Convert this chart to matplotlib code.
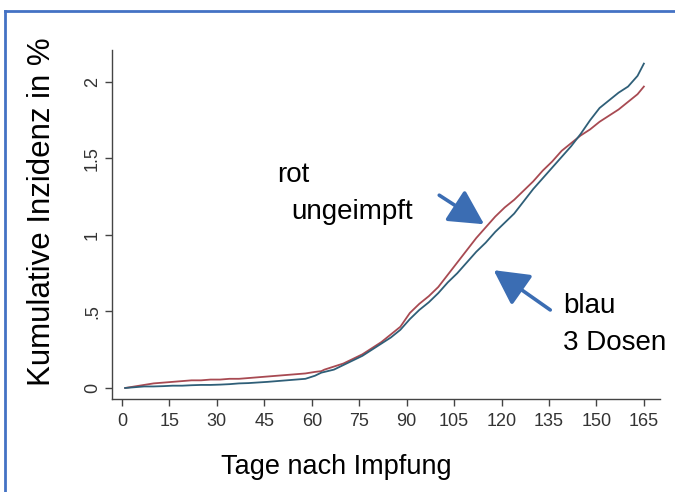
import matplotlib
matplotlib.use("Agg")
import matplotlib.pyplot as plt
from matplotlib.lines import Line2D

# Kumulative Inzidenz (%) nach Tagen seit Impfung
days = [1, 4, 7, 10, 13, 16, 19, 22, 25, 28, 31, 34, 37, 40, 43, 46, 49, 52,
        55, 58, 61, 63, 64, 67, 70, 73, 76, 79, 82, 85, 88, 91, 94, 97, 100,
        103, 106, 109, 112, 115, 118, 121, 124, 127, 130, 133, 136, 139, 142,
        145, 148, 151, 154, 157, 160, 163, 165]

rot_ungeimpft = [0.00, 0.01, 0.02, 0.03, 0.035, 0.04, 0.045, 0.05, 0.05,
                 0.055, 0.055, 0.06, 0.06, 0.065, 0.07, 0.075, 0.08, 0.085,
                 0.09, 0.095, 0.105, 0.11, 0.12, 0.14, 0.16, 0.19, 0.22, 0.26,
                 0.30, 0.35, 0.40, 0.49, 0.55, 0.60, 0.66, 0.74, 0.82, 0.90,
                 0.98, 1.05, 1.12, 1.18, 1.23, 1.29, 1.35, 1.42, 1.48, 1.55,
                 1.60, 1.65, 1.69, 1.74, 1.78, 1.82, 1.87, 1.92, 1.97]

blau_3dosen = [0.00, 0.005, 0.01, 0.01, 0.012, 0.015, 0.015, 0.018, 0.02,
               0.02, 0.022, 0.025, 0.03, 0.032, 0.036, 0.04, 0.045, 0.05,
               0.055, 0.06, 0.08, 0.10, 0.105, 0.12, 0.15, 0.18, 0.21, 0.25,
               0.29, 0.33, 0.38, 0.45, 0.51, 0.56, 0.62, 0.69, 0.75, 0.82,
               0.89, 0.95, 1.02, 1.08, 1.14, 1.22, 1.30, 1.37, 1.44, 1.51,
               1.58, 1.66, 1.75, 1.83, 1.88, 1.93, 1.97, 2.04, 2.12]

xticks = [0, 15, 30, 45, 60, 75, 90, 105, 120, 135, 150, 165]
yticks = [0, 0.5, 1, 1.5, 2]
ytick_labels = ['0', '.5', '1', '1.5', '2']

W, H = 675, 492
RED = '#a84a52'
BLUE = '#2f5f78'
ARROW = '#3b6db3'
TICKFONT = ['Liberation Sans Narrow', 'Liberation Sans']
FONT = ['Liberation Sans', 'DejaVu Sans']


def px(x, y):
    """Pixel (from top-left) -> figure fraction."""
    return x / W, 1 - y / H


fig = plt.figure(figsize=(W / 100, H / 100), dpi=100)
fig.patch.set_facecolor('white')

ax = fig.add_axes([112 / W, 1 - 399 / H, (660 - 112) / W, (399 - 50) / H])
ax.plot(days, rot_ungeimpft, color=RED, lw=1.3)
ax.plot(days, blau_3dosen, color=BLUE, lw=1.3)

ax.set_xlim(-3.16, 170.1)
ax.set_ylim(-0.072, 2.209)
ax.spines['top'].set_visible(False)
ax.spines['right'].set_visible(False)
for s in ['left', 'bottom']:
    ax.spines[s].set_color('#444444')
    ax.spines[s].set_linewidth(1.0)

ax.set_xticks(xticks)
ax.set_xticklabels([str(t) for t in xticks], family=TICKFONT, fontsize=13)
ax.set_yticks(yticks)
ax.set_yticklabels(ytick_labels, family=TICKFONT, fontsize=13, rotation=90,
                   va='center')
ax.tick_params(axis='x', length=5, width=1, color='#444444', pad=5,
               labelcolor='#333333')
ax.tick_params(axis='y', length=5, width=1, color='#444444', pad=3,
               labelcolor='#333333')

# Achsentitel
fig.text(*px(42, 212), 'Kumulative Inzidenz in %', rotation=90,
         ha='center', va='center', family=FONT, fontsize=22.5)
fig.text(*px(336, 467), 'Tage nach Impfung', ha='center', va='center',
         family=FONT, fontsize=19.5)

# Beschriftungen mit Pfeilen
fig.text(*px(277, 182), 'rot', ha='left', va='baseline', family=FONT,
         fontsize=20)
fig.text(*px(291, 219), 'ungeimpft', ha='left', va='baseline', family=FONT,
         fontsize=20)
fig.text(*px(563, 313), 'blau', ha='left', va='baseline', family=FONT,
         fontsize=20)
fig.text(*px(563, 350), '3 Dosen', ha='left', va='baseline', family=FONT,
         fontsize=20)

arrow = dict(arrowstyle='-|>,head_length=0.85,head_width=0.45',
             mutation_scale=25, lw=2.6, color=ARROW, shrinkA=0, shrinkB=0)
ax.annotate('', xy=(114.5, 1.07), xytext=(100.3, 1.26), arrowprops=arrow)
ax.annotate('', xy=(117.5, 0.77), xytext=(135.4, 0.51), arrowprops=arrow)

# blauer Rahmen (oben und links)
fig.add_artist(Line2D([5 / W, 1.0], [1 - 11 / H, 1 - 11 / H],
                      transform=fig.transFigure, color='#4472c4', lw=2))
fig.add_artist(Line2D([5 / W, 5 / W], [0.0, 1 - 11 / H],
                      transform=fig.transFigure, color='#4472c4', lw=2))

fig.savefig('out.png', dpi=100, facecolor='white')
